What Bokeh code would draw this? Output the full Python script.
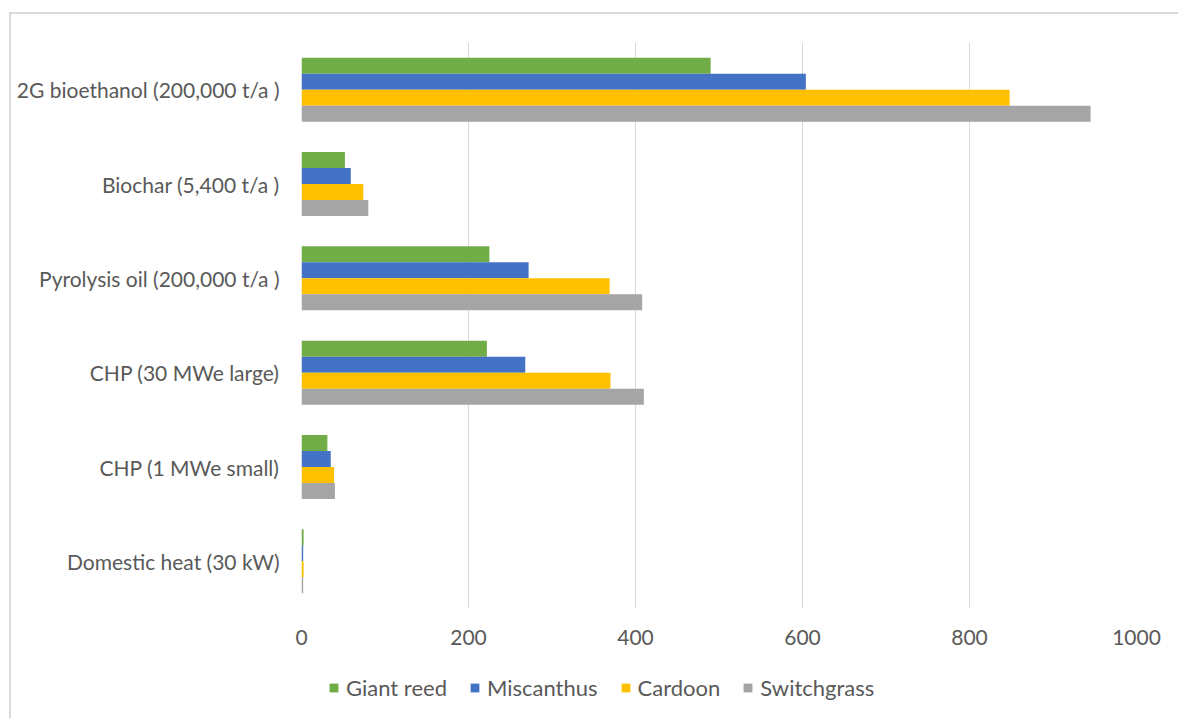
from bokeh.plotting import figure
from bokeh.layouts import column
from bokeh.models import ColumnDataSource, FactorRange, Legend, LegendItem, FixedTicker
from bokeh.transform import dodge
from bokeh.embed import file_html
from bokeh.resources import INLINE

# Applications, listed top to bottom
categories = [
    "2G bioethanol (200,000 t/a )",
    "Biochar (5,400 t/a )",
    "Pyrolysis oil (200,000 t/a )",
    "CHP (30 MWe large)",
    "CHP (1 MWe small)",
    "Domestic heat (30 kW)",
]
series = ["Giant reed", "Miscanthus", "Cardoon", "Switchgrass"]
giant_reed = [490, 52, 225, 222, 31, 2.5]
miscanthus = [604, 59, 272, 268, 35, 2.0]
cardoon = [848, 74, 369, 370, 39, 2.5]
switchgrass = [945, 80, 408, 410, 40, 2.0]
x_ticks = [0, 200, 400, 600, 800, 1000]

colors = ["#70AD47", "#4472C4", "#FFC000", "#A5A5A5"]
FONT = "Lato"
FONT_SIZE = "21px"
TEXT_COLOR = "#595959"
GRID_COLOR = "#D9D9D9"

source = ColumnDataSource(data=dict(
    cat=categories,
    giant_reed=giant_reed,
    miscanthus=miscanthus,
    cardoon=cardoon,
    switchgrass=switchgrass,
))

p = figure(
    width=1167, height=650,
    y_range=FactorRange(factors=list(reversed(categories)), range_padding=0),
    x_range=(0, 1000),
    output_backend="svg",
    toolbar_location=None,
    min_border_left=290, min_border_right=42,
    min_border_top=28, min_border_bottom=56,
)
p.outline_line_color = None

bar_h = 0.17
offsets = [0.2545, 0.0848, -0.0848, -0.2545]
fields = ["giant_reed", "miscanthus", "cardoon", "switchgrass"]
for f, off, c in zip(fields, offsets, colors):
    p.hbar(y=dodge("cat", off, range=p.y_range), right=f, left=0, height=bar_h,
           source=source, fill_color=c, line_color=None)

# x axis: labels only
p.xaxis.ticker = FixedTicker(ticks=x_ticks)
p.xaxis.axis_line_color = None
p.xaxis.major_tick_line_color = None
p.xaxis.minor_tick_line_color = None
p.xaxis.major_tick_out = 0
p.xaxis.major_label_standoff = 21
p.xaxis.major_label_text_font = FONT
p.xaxis.major_label_text_font_size = FONT_SIZE
p.xaxis.major_label_text_color = TEXT_COLOR

# y axis: category labels only
p.yaxis.axis_line_color = None
p.yaxis.major_tick_line_color = None
p.yaxis.minor_tick_line_color = None
p.yaxis.major_tick_out = 0
p.yaxis.major_label_standoff = 22
p.yaxis.major_label_text_font = FONT
p.yaxis.major_label_text_font_size = FONT_SIZE
p.yaxis.major_label_text_color = TEXT_COLOR

p.xgrid.grid_line_color = GRID_COLOR
p.xgrid.grid_line_width = 1
p.ygrid.grid_line_color = None

# Legend strip underneath the chart (its frame lines up with the chart's frame)
lg = figure(
    width=1167, height=54,
    x_range=(0, 1), y_range=(0, 1),
    output_backend="svg",
    toolbar_location=None,
    min_border=0,
)
lg.axis.visible = False
lg.grid.visible = False
lg.outline_line_color = None
# swatch renderers carry a single undrawn (NaN) point so the legend has a colour to use
swatch_src = ColumnDataSource(data=dict(x=[float("nan")], y=[float("nan")]))
swatches = [lg.rect(x="x", y="y", width=0.01, height=0.01, source=swatch_src,
                    fill_color=c, line_color=None) for c in colors]

legend = Legend(
    items=[LegendItem(label=s, renderers=[r]) for s, r in zip(series, swatches)],
    orientation="horizontal",
    location=(27, 17),
    glyph_width=11, glyph_height=11,
    label_standoff=7, spacing=22, padding=0, margin=0,
    label_text_font=FONT, label_text_font_size="22px",
    label_text_color=TEXT_COLOR,
    border_line_color=None, background_fill_alpha=0,
)
lg.add_layout(legend, "center")

layout = column(p, lg, spacing=0)
layout.styles = {
    "margin-left": "9px",
    "margin-top": "12px",
    "border-left": "2px solid #D9D9D9",
    "border-top": "2px solid #D9D9D9",
}

open("out.html", "w").write(file_html(layout, INLINE))
